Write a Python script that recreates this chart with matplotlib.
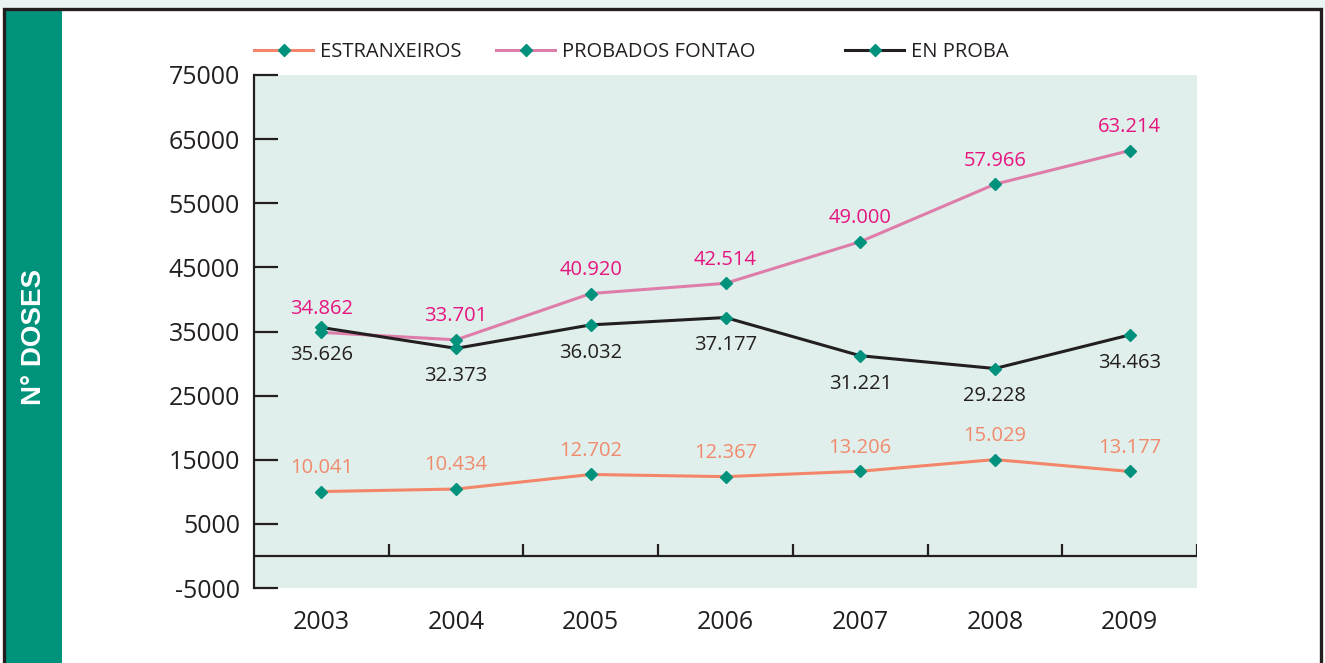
import matplotlib
matplotlib.use("Agg")
import matplotlib.pyplot as plt
from matplotlib.lines import Line2D
from matplotlib.patches import Rectangle

# Data
years = ["2003", "2004", "2005", "2006", "2007", "2008", "2009"]
estranxeiros = [10041, 10434, 12702, 12367, 13206, 15029, 13177]
probados_fontao = [34862, 33701, 40920, 42514, 49000, 57966, 63214]
en_proba = [35626, 32373, 36032, 37177, 31221, 29228, 34463]
y_ticks = [-5000, 5000, 15000, 25000, 35000, 45000, 55000, 65000, 75000]

# Colours
teal = "#00927C"
c_orange = "#F3866A"
c_orange_txt = "#F08A6D"
c_pink = "#DE7DAA"
c_pink_txt = "#E6157F"
c_black = "#231F20"
bg = "#E0EFEB"

plt.rcParams["font.family"] = ["Open Sans", "DejaVu Sans"]


def fmt(v):
    return f"{v:,}".replace(",", ".")


W, H = 1325, 663
fig = plt.figure(figsize=(W / 100, H / 100), dpi=100)
fig.patch.set_facecolor("white")

# light strip on top, frame and green side band
fig.patches.append(Rectangle((0, (H - 9) / H), 1, 9 / H, transform=fig.transFigure,
                             facecolor="#EAF4F2", edgecolor="none", zorder=0))
fig.patches.append(Rectangle((4 / W, 0), 58 / W, (H - 9) / H, transform=fig.transFigure,
                             facecolor="#00937C", edgecolor="none", zorder=1))
fig.patches.append(Rectangle((4 / W, -0.05), 1317 / W, (H - 9) / H + 0.05,
                             transform=fig.transFigure, facecolor="none",
                             edgecolor=c_black, linewidth=2.4, zorder=2))

fig.text(34 / W, 1 - 337 / H, "N° DOSES", rotation=90, color="white",
         fontsize=20, fontweight="bold", family=["Liberation Sans", "DejaVu Sans"],
         ha="center", va="center")

ax = fig.add_axes([254 / W, 75 / H, 943 / W, 513 / H])
ax.set_facecolor(bg)
x = list(range(len(years)))

ax.set_xlim(-0.5, len(years) - 0.5)
ax.set_ylim(-5000, 75000)

# zero line with category separators
ax.axhline(0, color=c_black, lw=1.6, zorder=2)
ax.vlines([i + 0.5 for i in x], 0, 1900, color=c_black, lw=1.6, zorder=2)

series = [
    (estranxeiros, c_orange, c_orange_txt, 17, "ESTRANXEIROS"),
    (probados_fontao, c_pink, c_pink_txt, 17, "PROBADOS FONTAO"),
    (en_proba, c_black, c_black, -20, "EN PROBA"),
]
for vals, col, tcol, off, name in series:
    ax.plot(x, vals, color=col, lw=2.2, marker="D", ms=6,
            markerfacecolor=teal, markeredgecolor=teal, zorder=3)
    for xi, v in zip(x, vals):
        ax.annotate(fmt(v), (xi, v), xytext=(0, off), textcoords="offset points",
                    ha="center", va="center", fontsize=14.5, color=tcol, zorder=4)

for s in ["top", "right", "bottom"]:
    ax.spines[s].set_visible(False)
ax.spines["left"].set_color(c_black)
ax.spines["left"].set_linewidth(1.6)

ax.set_yticks(y_ticks)
ax.set_yticklabels([str(t) for t in y_ticks])
ax.tick_params(axis="y", direction="in", length=17, width=1.6, color=c_black,
               labelsize=18, pad=10, labelcolor=c_black)
ax.set_xticks(x)
ax.set_xticklabels(years)
ax.tick_params(axis="x", length=0, labelsize=18, pad=16, labelcolor=c_black)

# legends, one per entry to keep the uneven spacing
leg_pos = [254, 496, 845]
for (vals, col, tcol, off, name), lx in zip(series, leg_pos):
    h = Line2D([], [], color=col, lw=2.2, marker="D", ms=6,
               markerfacecolor=teal, markeredgecolor=teal)
    fig.legend([h], [name], loc="center left", bbox_to_anchor=(lx / W, 1 - 52 / H),
               frameon=False, fontsize=14.5, handlelength=2.95, handletextpad=0.35,
               borderpad=0, borderaxespad=0, labelcolor=c_black)

fig.savefig("out.png", dpi=100)
